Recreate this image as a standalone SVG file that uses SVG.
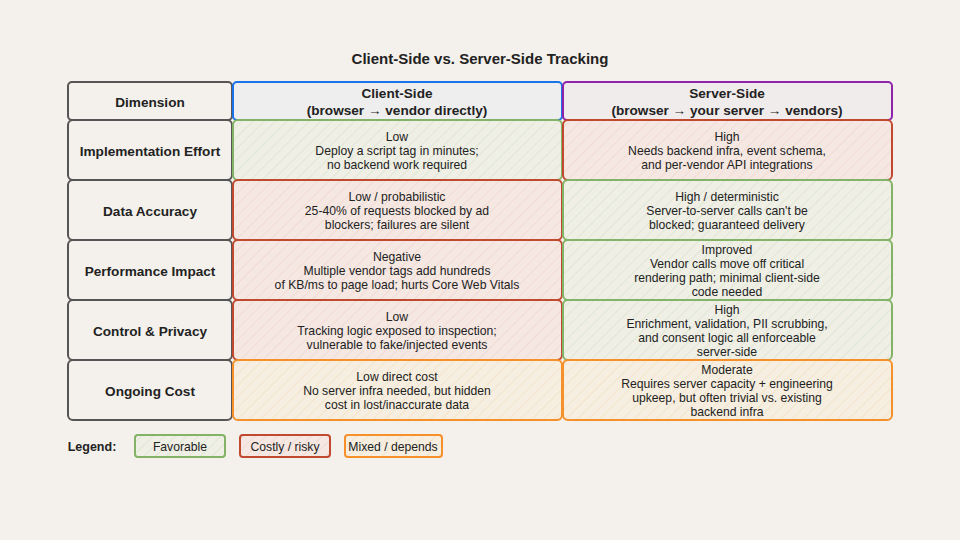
<svg xmlns="http://www.w3.org/2000/svg" width="960" height="540" viewBox="0 0 960 540">
<defs>
<pattern id="hg" width="8" height="8" patternUnits="userSpaceOnUse" patternTransform="rotate(45)"><rect width="8" height="8" fill="#f0efe6"/><line x1="0" y1="0" x2="0" y2="8" stroke="#cfe0c4" stroke-width="1"/></pattern>
<pattern id="hr" width="8" height="8" patternUnits="userSpaceOnUse" patternTransform="rotate(45)"><rect width="8" height="8" fill="#f5e8e2"/><line x1="0" y1="0" x2="0" y2="8" stroke="#f0cfc6" stroke-width="1"/></pattern>
<pattern id="ho" width="8" height="8" patternUnits="userSpaceOnUse" patternTransform="rotate(45)"><rect width="8" height="8" fill="#f6eee0"/><line x1="0" y1="0" x2="0" y2="8" stroke="#f3dcb8" stroke-width="1"/></pattern>
</defs>
<style>
text{font-family:"Liberation Sans",Arial,sans-serif;fill:#222;text-anchor:middle}
.t{font-size:12.2px}
.b{font-size:13.6px;font-weight:bold}
.dim{fill:#f4f1ec;stroke:#555;stroke-width:2}
.g{fill:url(#hg);stroke:#82b366;stroke-width:2}
.r{fill:url(#hr);stroke:#c0492f;stroke-width:2}
.o{fill:url(#ho);stroke:#f5902a;stroke-width:2}
</style>
<rect width="960" height="540" fill="#f4f0eb"/>
<text x="480" y="64" style="font-size:15px;font-weight:bold">Client-Side vs. Server-Side Tracking</text>
<g id="header">
<rect class="dim" x="68" y="82" width="164" height="38" rx="4"/>
<text class="b" x="150" y="107">Dimension</text>
<rect x="233" y="82" width="329" height="38" rx="4" fill="#eeeeee" stroke="#1a73e8" stroke-width="2"/>
<text class="b" x="397" y="98">Client-Side</text><text class="b" x="397" y="115">(browser → vendor directly)</text>
<rect x="563" y="82" width="329" height="38" rx="4" fill="#f1ecec" stroke="#8e24aa" stroke-width="2"/>
<text class="b" x="727" y="98">Server-Side</text><text class="b" x="727" y="115">(browser → your server → vendors)</text>
</g>
<g id="row1">
<rect class="dim" x="68" y="120" width="164" height="60" rx="5"/><text class="b" x="150" y="156">Implementation Effort</text>
<rect class="g" x="233" y="120" width="329" height="60" rx="5"/>
<text class="t" x="397" y="141">Low</text><text class="t" x="397" y="155">Deploy a script tag in minutes;</text><text class="t" x="397" y="169">no backend work required</text>
<rect class="r" x="563" y="120" width="329" height="60" rx="5"/>
<text class="t" x="727" y="141">High</text><text class="t" x="727" y="155">Needs backend infra, event schema,</text><text class="t" x="727" y="169">and per-vendor API integrations</text>
</g>
<g id="row2">
<rect class="dim" x="68" y="180" width="164" height="60" rx="5"/><text class="b" x="150" y="216">Data Accuracy</text>
<rect class="r" x="233" y="180" width="329" height="60" rx="5"/>
<text class="t" x="397" y="201">Low / probabilistic</text><text class="t" x="397" y="215">25-40% of requests blocked by ad</text><text class="t" x="397" y="229">blockers; failures are silent</text>
<rect class="g" x="563" y="180" width="329" height="60" rx="5"/>
<text class="t" x="727" y="201">High / deterministic</text><text class="t" x="727" y="215">Server-to-server calls can't be</text><text class="t" x="727" y="229">blocked; guaranteed delivery</text>
</g>
<g id="row3">
<rect class="dim" x="68" y="240" width="164" height="60" rx="5"/><text class="b" x="150" y="276">Performance Impact</text>
<rect class="r" x="233" y="240" width="329" height="60" rx="5"/>
<text class="t" x="397" y="261">Negative</text><text class="t" x="397" y="275">Multiple vendor tags add hundreds</text><text class="t" x="397" y="289">of KB/ms to page load; hurts Core Web Vitals</text>
<rect class="g" x="563" y="240" width="329" height="60" rx="5"/>
<text class="t" x="727" y="254">Improved</text><text class="t" x="727" y="268">Vendor calls move off critical</text><text class="t" x="727" y="282">rendering path; minimal client-side</text><text class="t" x="727" y="296">code needed</text>
</g>
<g id="row4">
<rect class="dim" x="68" y="300" width="164" height="60" rx="5"/><text class="b" x="150" y="336">Control &amp; Privacy</text>
<rect class="r" x="233" y="300" width="329" height="60" rx="5"/>
<text class="t" x="397" y="321">Low</text><text class="t" x="397" y="335">Tracking logic exposed to inspection;</text><text class="t" x="397" y="349">vulnerable to fake/injected events</text>
<rect class="g" x="563" y="300" width="329" height="60" rx="5"/>
<text class="t" x="727" y="314">High</text><text class="t" x="727" y="328">Enrichment, validation, PII scrubbing,</text><text class="t" x="727" y="342">and consent logic all enforceable</text><text class="t" x="727" y="356">server-side</text>
</g>
<g id="row5">
<rect class="dim" x="68" y="360" width="164" height="60" rx="5"/><text class="b" x="150" y="396">Ongoing Cost</text>
<rect class="o" x="233" y="360" width="329" height="60" rx="5"/>
<text class="t" x="397" y="381">Low direct cost</text><text class="t" x="397" y="395">No server infra needed, but hidden</text><text class="t" x="397" y="409">cost in lost/inaccurate data</text>
<rect class="o" x="563" y="360" width="329" height="60" rx="5"/>
<text class="t" x="727" y="374">Moderate</text><text class="t" x="727" y="388">Requires server capacity + engineering</text><text class="t" x="727" y="402">upkeep, but often trivial vs. existing</text><text class="t" x="727" y="416">backend infra</text>
</g>
<g id="legend">
<text x="92" y="451" style="font-size:12.5px;font-weight:bold">Legend:</text>
<rect class="g" x="135" y="435" width="90" height="22" rx="3"/><text class="t" x="180" y="451">Favorable</text>
<rect class="r" x="240" y="435" width="90" height="22" rx="3"/><text class="t" x="285" y="451">Costly / risky</text>
<rect class="o" x="345" y="435" width="97" height="22" rx="3"/><text class="t" x="393" y="451">Mixed / depends</text>
</g>
<g id="connectors"/>
</svg>
